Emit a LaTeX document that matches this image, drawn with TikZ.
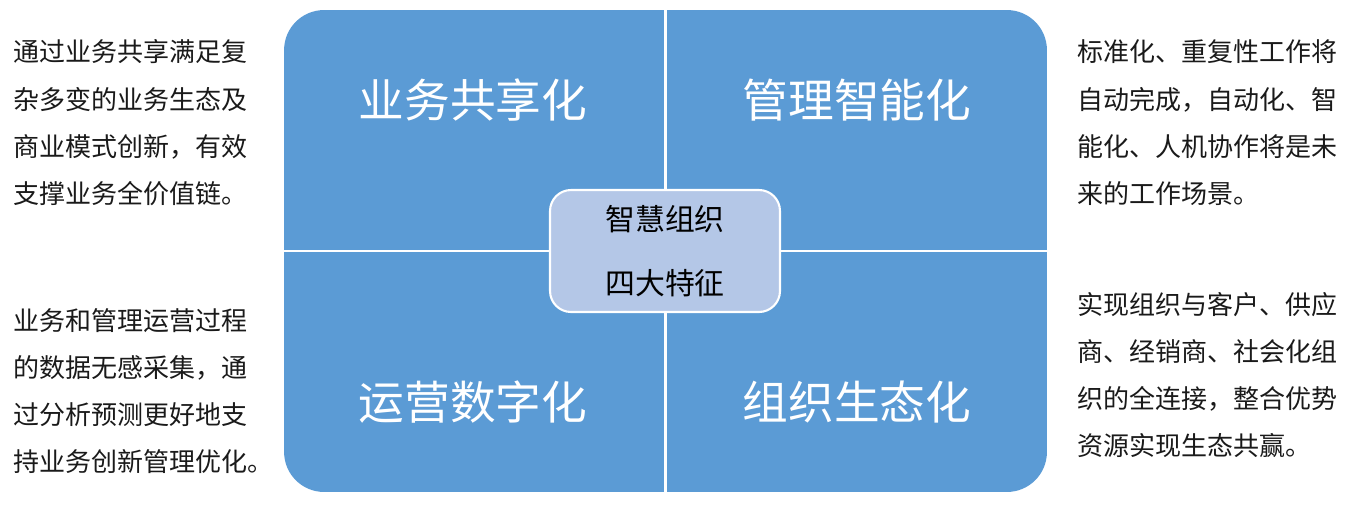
\documentclass[tikz,border=0pt]{standalone}
\usepackage{fontspec}
\setmainfont{Noto Sans CJK SC}
\usetikzlibrary{positioning}
\usepackage{xcolor}
\definecolor{QuadBlue}{HTML}{5B9BD5}
\definecolor{CoreBlue}{HTML}{B4C7E7}
\definecolor{NoteText}{HTML}{1A1A1A}
\tikzset{
  board/.style={rectangle,rounded corners=0.8cm,fill=QuadBlue,draw=none,
                minimum width=15.26cm,minimum height=9.64cm},
  quad/.style={font=\fontsize{26}{30}\selectfont\color{white}},
  core/.style={rectangle,rounded corners=0.42cm,fill=CoreBlue,draw=white,
               line width=1.2pt,minimum width=4.6cm,minimum height=2.44cm,
               align=center,font=\fontsize{17}{36}\selectfont\color{black}},
  note/.style={align=left,inner sep=0pt,
               font=\fontsize{14.8}{26.9}\selectfont\color{NoteText}},
  split/.style={draw=white,line width=1.2pt},
}

\begin{document}
\begin{tikzpicture}[x=0.02cm,y=-0.02cm]

  \useasboundingbox (0,0) rectangle (1361,514);

  % four quadrants
  \node[board] (board) at (665.5,251) {};
  \draw[split] (board.north) -- (board.south);
  \draw[split] (board.west) -- (board.east);

  \node[quad] (share)  at (473,100) {业务共享化};
  \node[quad] (smart)  at (857,100) {管理智能化};
  \node[quad] (digit)  at (473,402) {运营数字化};
  \node[quad] (eco)    at (857,402) {组织生态化};

  % centre
  \node[core] (core) at (665,251) {智慧组织\\四大特征};

  % side notes
  \node[note,anchor=west] (noteA) at (13,123)
    {通过业务共享满足复\\杂多变的业务生态及\\商业模式创新，有效\\支撑业务全价值链。};
  \node[note,anchor=west] (noteB) at (13,391)
    {业务和管理运营过程\\的数据无感采集，通\\过分析预测更好地支\\持业务创新管理优化。};
  \node[note,anchor=west] (noteC) at (1077,123)
    {标准化、重复性工作将\\自动完成，自动化、智\\能化、人机协作将是未\\来的工作场景。};
  \node[note,anchor=west] (noteD) at (1077,375)
    {实现组织与客户、供应\\商、经销商、社会化组\\织的全连接，整合优势\\资源实现生态共赢。};

\end{tikzpicture}
\end{document}
